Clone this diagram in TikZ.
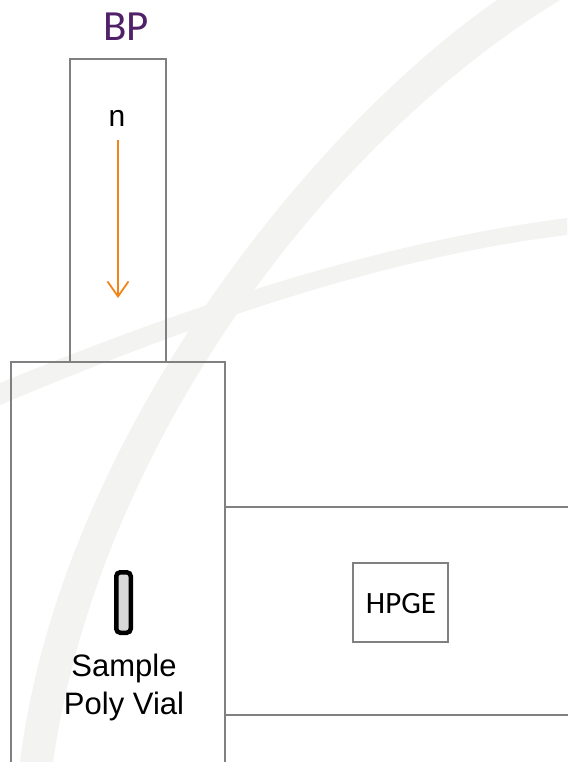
\documentclass[tikz,border=0pt]{standalone}
\usepackage{fontspec}
\setmainfont{Liberation Sans}
\newfontfamily\calib{Carlito}
\usetikzlibrary{arrows.meta}
\definecolor{framegray}{RGB}{128,128,128}
\definecolor{bandgray}{RGB}{243,243,241}
\definecolor{bppurple}{RGB}{80,32,104}
\definecolor{beamorange}{RGB}{242,132,24}
\definecolor{vialfill}{RGB}{217,217,217}
\tikzset{
  frame/.style={draw=framegray, line width=2.4pt},
  vial/.style={draw=black, line width=4.5pt, fill=vialfill, rounded corners=4pt},
  beam/.style={draw=beamorange, line width=1.8pt, -{Straight Barb[length=15pt,width=21pt,line width=1.8pt]}},
  label/.style={inner sep=0pt, text=black},
}
\begin{document}
\begin{tikzpicture}[x=1pt,y=-1pt]
\useasboundingbox (0,0) rectangle (567,762);
% faint background swooshes
\begin{scope}
\clip (0,0) rectangle (567,762);
\fill[bandgray] (525,-22) -- (497,0) .. controls (310,130) and (60,440) .. (20,762) -- (16,790)
  -- (49,790) -- (53,762) .. controls (100,440) and (330,140) .. (560,0) -- (595,-22) -- cycle;
\fill[bandgray] (-30,396) -- (0,383) .. controls (190,305) and (380,242) .. (567,218) -- (600,214)
  -- (600,231) -- (567,235) .. controls (380,258) and (190,325) .. (0,405) -- (-30,418) -- cycle;
\end{scope}
% beam port
\node[label, text=bppurple, font=\calib\fontsize{43}{46}\selectfont] (bp) at (126,27) {BP};
\draw[frame] (70,362) -- (70,59) -- (166,59) -- (166,362);
\node[label, font=\fontsize{30}{34}\selectfont] (n) at (117,118) {n};
\coordinate (beamstart) at (118,140);
\coordinate (beamend) at (118,298);
\draw[beam] (beamstart) -- (beamend);
% sample chamber
\draw[frame] (11,765) -- (11,362) -- (225,362) -- (225,765);
\node[vial, minimum width=14.5pt, minimum height=60.5pt, inner sep=0pt] (vialbox) at (123.5,602.5) {};
\node[label, align=center, font=\fontsize{31}{38}\selectfont] (vialtxt) at (124,687) {Sample\\Poly Vial};
% detector channel
\draw[frame] (225,507) -- (570,507);
\draw[frame] (225,715) -- (570,715);
\node[frame, minimum width=95pt, minimum height=79pt, inner sep=0pt] (hpge) at (400.5,602.5) {};
\node[label, font=\calib\fontsize{31}{34}\selectfont] (hpgetxt) at (401,604) {HPGE};
\end{tikzpicture}
\end{document}
